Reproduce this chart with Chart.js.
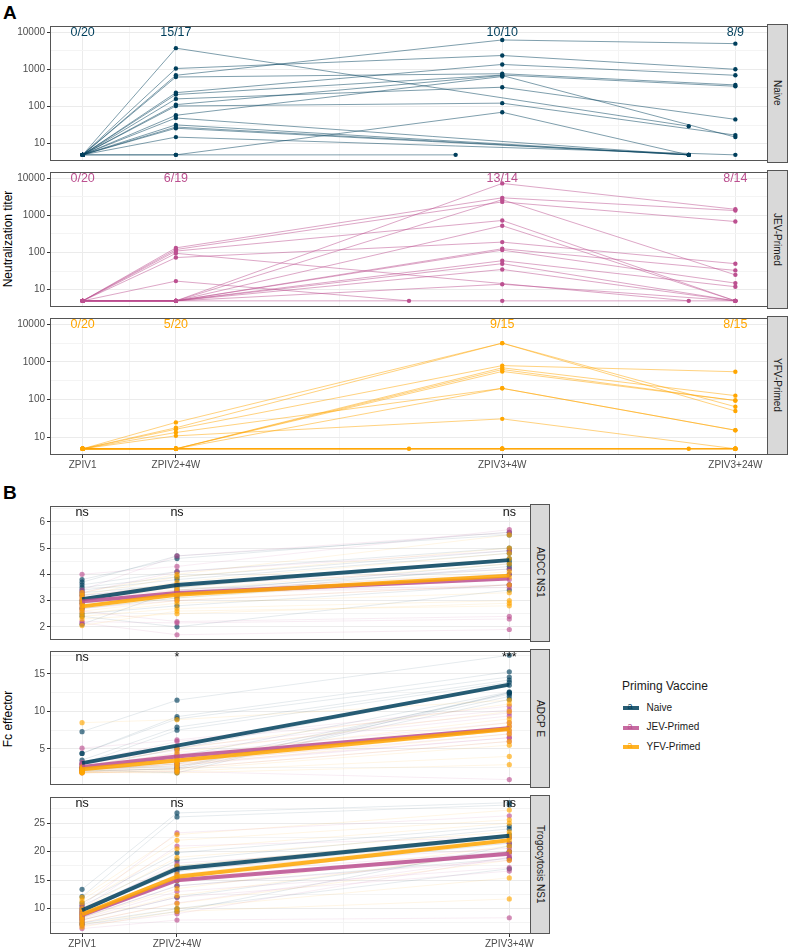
<!DOCTYPE html>
<html>
<head>
<meta charset="utf-8">
<script src="https://cdn.jsdelivr.net/npm/chart.js@4.4.1/dist/chart.umd.min.js"></script>
<style>
  html, body { margin: 0; padding: 0; background: #fff; }
  #fig { position: relative; width: 789px; height: 949px; overflow: hidden; font-family: "Liberation Sans", Arial, sans-serif; }
  #fig canvas { position: absolute; left: 0; }
  .tag { position: absolute; font-weight: bold; font-size: 19px; line-height: 19px; color: #000; }
  .strip { position: absolute; background: #d9d9d9; border: 1px solid #555; box-sizing: border-box; display: flex; align-items: center; justify-content: center; }
  .strip span { writing-mode: vertical-rl; font-size: 10px; color: #1a1a1a; white-space: nowrap; }
  .ytitle { position: absolute; font-size: 12px; color: #000; white-space: nowrap; transform: translate(-50%, -50%) rotate(-90deg); }
  .ltitle { position: absolute; font-size: 12px; color: #1a1a1a; white-space: nowrap; }
  .lkey { position: absolute; width: 16px; height: 4px; }
  .lkey b { position: absolute; left: 5px; top: -5px; font-size: 9px; font-weight: normal; line-height: 10px; }
  .llab { position: absolute; font-size: 10px; color: #1a1a1a; white-space: nowrap; }
</style>
</head>
<body>
<div id="fig">
  <div class="tag" style="left:3px;top:3px">A</div>
  <div class="tag" style="left:3px;top:483px">B</div>
  <div class="ytitle" style="left:8px;top:239px">Neutralization titer</div>
  <div class="ytitle" style="left:8px;top:719px">Fc effector</div>
</div>
<script>
// ---------- panel A: neutralization titers ----------
const visitDays = [0, 56, 196, 224, 252, 364, 392];
const titerMajorDays = [0, 56, 252, 392];
const titerDayLabels = ['ZPIV1', 'ZPIV2+4W', 'ZPIV3+4W', 'ZPIV3+24W'];
const titerTicks = [10, 100, 1000, 10000];
const N = null;

const naiveTiters = [
  [5, 3700, N, N, N, 29.5, N],
  [5, 1050, N, N, 2350, N, 1000],
  [5, 690, N, N, 6150, N, 4900],
  [5, 620, N, N, 760, N, 380],
  [5, 235, N, N, 1350, N, 690],
  [5, 210, N, N, 700, N, 350],
  [5, 160, N, N, 330, N, 45],
  [5, 112, N, N, 680, N, 15],
  [5, 103, N, N, 123, N, 17],
  [5, 58, N, N, 640],
  [5, 49, N, N, N, 5],
  [5, 32, N, N, N, 5],
  [5, 26, N, N, N, 5],
  [5, 15, N, N, N, N, 5],
  [5, 5, N, 5],
  [5, 5, N, N, 70, 5],
  [5, 28, N, N, N, 5],
  [5], [5], [5]
];
const jevTiters = [
  [5, 133, N, N, 2950, N, 1340],
  [5, 120, N, N, 2290, N, 680],
  [5, 5, N, N, 7200, N, 1450],
  [5, 109, N, N, 725, N, 5],
  [5, 95, N, N, N, 5],
  [5, 73, N, N, 190, N, 50],
  [5, 17, 5],
  [5, 5, N, N, 126, N, 33],
  [5, 5, N, N, 116, N, 15],
  [5, 5, N, N, 60, N, 12],
  [5, 5, N, N, 50, N, 5],
  [5, 5, N, N, 35, N, 5],
  [5, 5, N, N, 14, N, 5],
  [5, 5, N, N, 5, N, 5],
  [5, 5, N, N, 2630, N, 25],
  [5, 5, N, N, 525, N, 5],
  [5, 5], [5, 5], [5, 5], [5]
];
const yfvTiters = [
  [5, 25, N, N, 3150, N, 65],
  [5, 18, N, N, 3150, N, 50],
  [5, 16.5, N, N, 800, N, 550],
  [5, 13.5, N, N, 200, N, 15.5],
  [5, 11, N, N, 31, N, 5],
  [5, 5, N, N, 700, N, 128],
  [5, 5, N, N, 630, N, 95],
  [5, 5, N, N, 560, N, 95],
  [5, 5, N, N, 200, N, 15.5],
  [5, 5, N, N, 5, N, 5], [5, 5, N, N, 5, N, 5], [5, 5, N, N, 5, N, 5],
  [5, 5, N, N, 5, N, 5], [5, 5, N, N, 5, N, 5], [5, 5, N, N, 5, N, 5],
  [5, 5, 5],
  [5, 5, N, N, N, 5],
  [5, 5], [5, 5], [5, 5]
];
const naiveCounts = ['0/20', '15/17', '10/10', '8/9'];
const jevCounts = ['0/20', '6/19', '13/14', '8/14'];
const yfvCounts = ['0/20', '5/20', '9/15', '8/15'];

// ---------- panel B: Fc effector ----------
const fcDays = [0, 56, 252];
const fcDayLabels = ['ZPIV1', 'ZPIV2+4W', 'ZPIV3+4W'];

const adccNaive = [[3.8,4.6,5.6],[3.7,4.7,5.5],[3.6,4.1,5.0],[3.5,3.9,4.9],[3.4,3.8,4.8],[3.3,3.6,4.6],[3.2,3.5,4.5],[3.0,3.3,4.4],[2.9,3.2,4.3],[2.7,3.1,4.0],[2.5,2.8,3.6],[2.4,2.0,3.4],[2.1,3.4,4.2]];
const adccJev = [[4.0,4.3,5.7],[3.4,4.7,5.6],[3.3,4.1,4.9],[3.2,3.6,4.2],[3.1,3.4,4.0],[3.0,3.2,3.8],[2.9,3.3,3.5],[2.8,3.3,3.6],[2.7,3.0,3.6],[2.6,2.2,2.4],[2.2,2.15,2.3],[2.15,1.7,1.9]];
const adccYfv = [[3.3,4.0,5.5],[3.2,3.9,5.0],[3.1,3.7,4.8],[3.0,3.5,4.6],[2.9,3.4,4.4],[2.8,3.3,4.1],[2.7,3.1,3.9],[2.6,3.0,3.6],[2.5,2.9,3.3],[2.4,2.7,3.0],[2.3,2.5,2.9],[2.05,2.6,2.8]];
const adccMeanNaive = [3.05, 3.59, 4.54];
const adccMeanJev = [2.97, 3.29, 3.84];
const adccMeanYfv = [2.78, 3.22, 3.95];
const adccSig = ['ns', 'ns', 'ns'];

const adcpNaive = [[7.3,11.5,17.5],[4.4,9.3,15.3],[4.4,9.0,14.6],[3.5,7.9,14.2],[3.0,7.5,13.9],[2.5,5.0,13.5],[2.3,4.0,12.6],[2.2,3.0,12.3],[2.5,2.6,12.0],[2.4,2.2,11.6],[2.2,1.8,12.5],[2.0,2.4,12.5]];
const adcpJev = [[5.1,6.2,10.7],[3.2,6.0,10.2],[2.9,5.2,9.8],[3.0,4.8,9.4],[2.8,4.3,8.5],[2.6,4.0,8.0],[2.4,3.6,7.4],[2.3,3.2,7.0],[2.2,3.0,6.5],[2.1,2.8,6.5],[1.9,2.4,6.0],[1.8,2.0,0.9]];
const adcpYfv = [[8.5,8.9,11.5],[2.6,5.0,11.0],[2.4,4.5,10.0],[2.3,4.0,9.0],[2.2,3.6,8.5],[2.1,3.3,8.0],[2.0,3.0,7.5],[1.9,2.8,7.0],[1.9,2.4,6.0],[1.8,2.2,5.5],[1.8,2.0,4.0],[1.85,1.8,2.9]];
const adcpMeanNaive = [3.1, 5.44, 13.58];
const adcpMeanJev = [2.6, 4.0, 7.76];
const adcpMeanYfv = [2.28, 3.45, 7.67];
const adcpSig = ['ns', '*', '***'];

const trogNaive = [[13.4,26.8,28.6],[12.1,26.1,28.2],[11.0,19.8,24.5],[10.5,18.5,24.0],[10.0,17.5,23.0],[9.6,16.5,22.5],[9.2,15.5,21.5],[8.8,14.9,20.0],[8.4,14.0,18.8],[8.0,12.0,20.0],[7.5,10.0,17.0],[7.2,9.5,21.0]];
const trogJev = [[10.5,23.3,26.3],[10.0,21.0,22.5],[9.6,18.0,21.5],[9.3,17.0,20.6],[9.0,16.0,20.0],[8.8,15.0,19.5],[8.5,14.0,18.5],[8.2,13.0,17.2],[8.0,12.0,16.6],[7.5,11.0,19.0],[7.0,9.1,19.0],[6.5,8.0,8.4]];
const trogYfv = [[12.0,23.0,27.3],[11.5,22.0,25.6],[11.0,20.5,25.0],[10.0,19.0,23.5],[9.5,17.5,23.0],[9.0,16.0,22.5],[8.7,15.0,22.0],[8.4,13.5,21.0],[8.0,12.3,20.0],[7.6,10.9,18.5],[7.2,10.0,15.4],[6.8,9.5,11.7]];
const trogMeanNaive = [9.7, 17.0, 22.8];
const trogMeanJev = [8.85, 15.0, 19.65];
const trogMeanYfv = [9.0, 15.6, 22.0];
const trogSig = ['ns', 'ns', 'ns'];

const groupNames = ['Naive', 'JEV-Primed', 'YFV-Primed'];
const groupColors = ['#003f5c', '#bc5090', '#ffa600'];

// ---------- helpers ----------
const FONT = '"Liberation Sans", Arial, sans-serif';
const fig = document.getElementById('fig');

function rgba(hex, a) {
  const n = parseInt(hex.slice(1), 16);
  return `rgba(${n >> 16},${(n >> 8) & 255},${n & 255},${a})`;
}
function track(days, vals) {
  const pts = [];
  vals.forEach((v, i) => { if (v != null) pts.push({ x: days[i], y: v }); });
  return pts;
}
function near(list, v) { return list.some(m => Math.abs(m - v) < 1e-6 * Math.max(1, Math.abs(m))); }

// thin subject lines first, then points, then mean lines on top
function layers(days, groups, st) {
  const sets = [];
  groups.forEach(g => g.subjects.forEach(s => {
    const d = track(days, s);
    if (d.length > 1) sets.push({ data: d, borderColor: rgba(g.color, st.lineAlpha), borderWidth: st.lineWidth, pointRadius: 0, tension: 0 });
  }));
  groups.forEach(g => sets.push({
    data: g.subjects.flatMap(s => track(days, s)), showLine: false,
    pointRadius: st.r, pointBackgroundColor: rgba(g.color, st.pointAlpha), pointBorderWidth: 0, pointBorderColor: 'rgba(0,0,0,0)'
  }));
  groups.forEach(g => {
    if (g.mean) sets.push({ data: track(days, g.mean), borderColor: rgba(g.color, 0.85), borderWidth: 4, pointRadius: 0, tension: 0, borderCapStyle: 'butt' });
  });
  sets.forEach((d, i) => { d.order = -i; });
  return sets;
}

const panelPlugin = {
  id: 'panelFrame',
  afterDatasetsDraw(chart) {
    const f = chart.canvas._facet;
    const a = chart.chartArea, c = chart.ctx;
    const xs = chart.scales.x, ys = chart.scales.y;
    c.save();
    c.font = `${f.noteSize}px ${FONT}`;
    c.fillStyle = f.noteColor;
    c.textAlign = 'center';
    c.textBaseline = 'middle';
    f.notes.forEach((t, i) => {
      const y = f.noteAtValue != null ? ys.getPixelForValue(f.noteAtValue) : a.top + 7;
      c.fillText(t, xs.getPixelForValue(f.xMajors[i]), y);
    });
    c.strokeStyle = '#555';
    c.lineWidth = 1;
    c.strokeRect(a.left + 0.5, a.top + 0.5, a.right - a.left - 1, a.bottom - a.top - 1);
    c.restore();
  }
};

function facet(f) {
  const padTop = 2, xH = f.withX ? 20 : 0;
  const H = Math.round(f.bottom - f.top) + padTop + 2 + xH;
  const cv = document.createElement('canvas');
  cv.width = f.canvasW; cv.height = H;
  cv.style.top = (f.top - padTop) + 'px';
  cv.style.width = f.canvasW + 'px';
  cv.style.height = H + 'px';
  cv._facet = f;
  fig.appendChild(cv);

  const strip = document.createElement('div');
  strip.className = 'strip';
  strip.style.cssText = `left:${f.right - 1}px;top:${f.top}px;width:${f.stripW}px;height:${f.bottom - f.top}px`;
  strip.innerHTML = `<span>${f.strip}</span>`;
  fig.appendChild(strip);

  const majGrid = '#ebebeb', minGrid = '#f4f4f4';
  new Chart(cv.getContext('2d'), {
    type: 'line',
    data: { datasets: f.datasets },
    plugins: [panelPlugin],
    options: {
      responsive: false, animation: false, events: [],
      layout: { padding: { left: 0, right: f.canvasW - f.right, top: padTop, bottom: 2 } },
      plugins: { legend: { display: false }, tooltip: { enabled: false } },
      scales: {
        x: {
          type: 'linear', min: f.xMin, max: f.xMax,
          afterBuildTicks: s => { s.ticks = f.xTicks.map(v => ({ value: v })); },
          afterFit: s => { s.height = xH; s.paddingLeft = 0; s.paddingRight = 0; },
          border: { display: false },
          grid: {
            color: c => (c.tick && near(f.xMajors, c.tick.value)) ? majGrid : minGrid,
            lineWidth: 1, drawTicks: f.withX, tickLength: 3, tickWidth: 1,
            tickColor: c => (c.tick && near(f.xMajors, c.tick.value)) ? '#333' : 'rgba(0,0,0,0)'
          },
          ticks: {
            display: f.withX, autoSkip: false, maxRotation: 0, minRotation: 0, padding: 1,
            color: '#4d4d4d', font: { size: 10, family: FONT },
            callback: v => { const i = f.xMajors.findIndex(m => m === v); return i >= 0 ? f.xLabels[i] : ''; }
          }
        },
        y: {
          type: f.yType, min: f.yMin, max: f.yMax,
          afterBuildTicks: s => { s.ticks = f.yTicks.map(v => ({ value: v })); },
          afterFit: s => { s.width = 50; s.paddingTop = 0; s.paddingBottom = 0; },
          border: { display: false },
          grid: {
            color: c => (c.tick && near(f.yMajors, c.tick.value)) ? majGrid : minGrid,
            lineWidth: 1, drawTicks: true, tickLength: 3, tickWidth: 1,
            tickColor: c => (c.tick && near(f.yMajors, c.tick.value)) ? '#333' : 'rgba(0,0,0,0)'
          },
          ticks: {
            autoSkip: false, padding: 2, color: '#4d4d4d', font: { size: 10, family: FONT },
            callback: v => near(f.yMajors, v) ? String(v) : ''
          }
        }
      }
    }
  });
}

// ---------- panel A facets ----------
const titerMinor = [Math.pow(10, 1.5), Math.pow(10, 2.5), Math.pow(10, 3.5)];
const xMinorA = [28, 154, 322];
const aFacets = [
  { top: 23.5, bottom: 162.5, subjects: naiveTiters, counts: naiveCounts, strip: 'Naive', g: 0 },
  { top: 169.5, bottom: 308.5, subjects: jevTiters, counts: jevCounts, strip: 'JEV-Primed', g: 1 },
  { top: 315.5, bottom: 454.5, subjects: yfvTiters, counts: yfvCounts, strip: 'YFV-Primed', g: 2 }
];
aFacets.forEach((p, k) => {
  facet({
    top: p.top, bottom: p.bottom, canvasW: 772, right: 768, stripW: 21, strip: p.strip,
    withX: k === 2,
    xMin: -19.6, xMax: 411.6, xMajors: titerMajorDays, xLabels: titerDayLabels,
    xTicks: titerMajorDays.concat(xMinorA),
    yType: 'logarithmic', yMin: 3.42, yMax: 14600, yMajors: titerTicks,
    yTicks: titerTicks.concat(titerMinor),
    notes: p.counts, noteAtValue: 10000, noteSize: 12.5, noteColor: groupColors[p.g],
    datasets: layers(visitDays, [{ subjects: p.subjects, color: groupColors[p.g] }],
      { lineAlpha: 0.5, lineWidth: 1, r: 2.2, pointAlpha: 1 })
  });
});

// ---------- panel B facets ----------
const bFacets = [
  { top: 503.5, bottom: 641.8, strip: 'ADCC NS1', min: 1.5, max: 6.6, majors: [2, 3, 4, 5, 6], minors: [2.5, 3.5, 4.5, 5.5, 6.5],
    sets: [adccNaive, adccJev, adccYfv], means: [adccMeanNaive, adccMeanJev, adccMeanYfv], sig: adccSig },
  { top: 649.3, bottom: 787.7, strip: 'ADCP E', min: 0.18, max: 18.07, majors: [5, 10, 15], minors: [2.5, 7.5, 12.5, 17.5],
    sets: [adcpNaive, adcpJev, adcpYfv], means: [adcpMeanNaive, adcpMeanJev, adcpMeanYfv], sig: adcpSig },
  { top: 795, bottom: 934.3, strip: 'Trogocytosis NS1', min: 5.55, max: 29.6, majors: [10, 15, 20, 25], minors: [7.5, 12.5, 17.5, 22.5, 27.5],
    sets: [trogNaive, trogJev, trogYfv], means: [trogMeanNaive, trogMeanJev, trogMeanYfv], sig: trogSig }
];
bFacets.forEach((p, k) => {
  const groups = p.sets.map((s, i) => ({ subjects: s, color: groupColors[i], mean: p.means[i] }));
  facet({
    top: p.top, bottom: p.bottom, canvasW: 560, right: 531, stripW: 20, strip: p.strip,
    withX: k === 2,
    xMin: -18.9, xMax: 264.8, xMajors: fcDays, xLabels: fcDayLabels,
    xTicks: fcDays.concat([28, 154]),
    yType: 'linear', yMin: p.min, yMax: p.max, yMajors: p.majors,
    yTicks: p.majors.concat(p.minors),
    notes: p.sig, noteAtValue: null, noteSize: 12.5, noteColor: '#111',
    datasets: layers(fcDays, groups, { lineAlpha: 0.13, lineWidth: 0.8, r: 2.6, pointAlpha: 0.65 })
  });
});

// ---------- legend ----------
(function legend() {
  const t = document.createElement('div');
  t.className = 'ltitle';
  t.style.cssText = 'left:622px;top:679px';
  t.textContent = 'Priming Vaccine';
  fig.appendChild(t);
  const ys = [708.3, 727.8, 747.3];
  groupNames.forEach((name, i) => {
    const k = document.createElement('div');
    k.className = 'lkey';
    k.style.cssText = `left:622.5px;top:${ys[i] - 2}px;background:${rgba(groupColors[i], 0.85)}`;
    k.innerHTML = `<b style="color:${groupColors[i]}">a</b>`;
    fig.appendChild(k);
    const l = document.createElement('div');
    l.className = 'llab';
    l.style.cssText = `left:646.5px;top:${ys[i] - 6.5}px`;
    l.textContent = name;
    fig.appendChild(l);
  });
})();
</script>
</body>
</html>
